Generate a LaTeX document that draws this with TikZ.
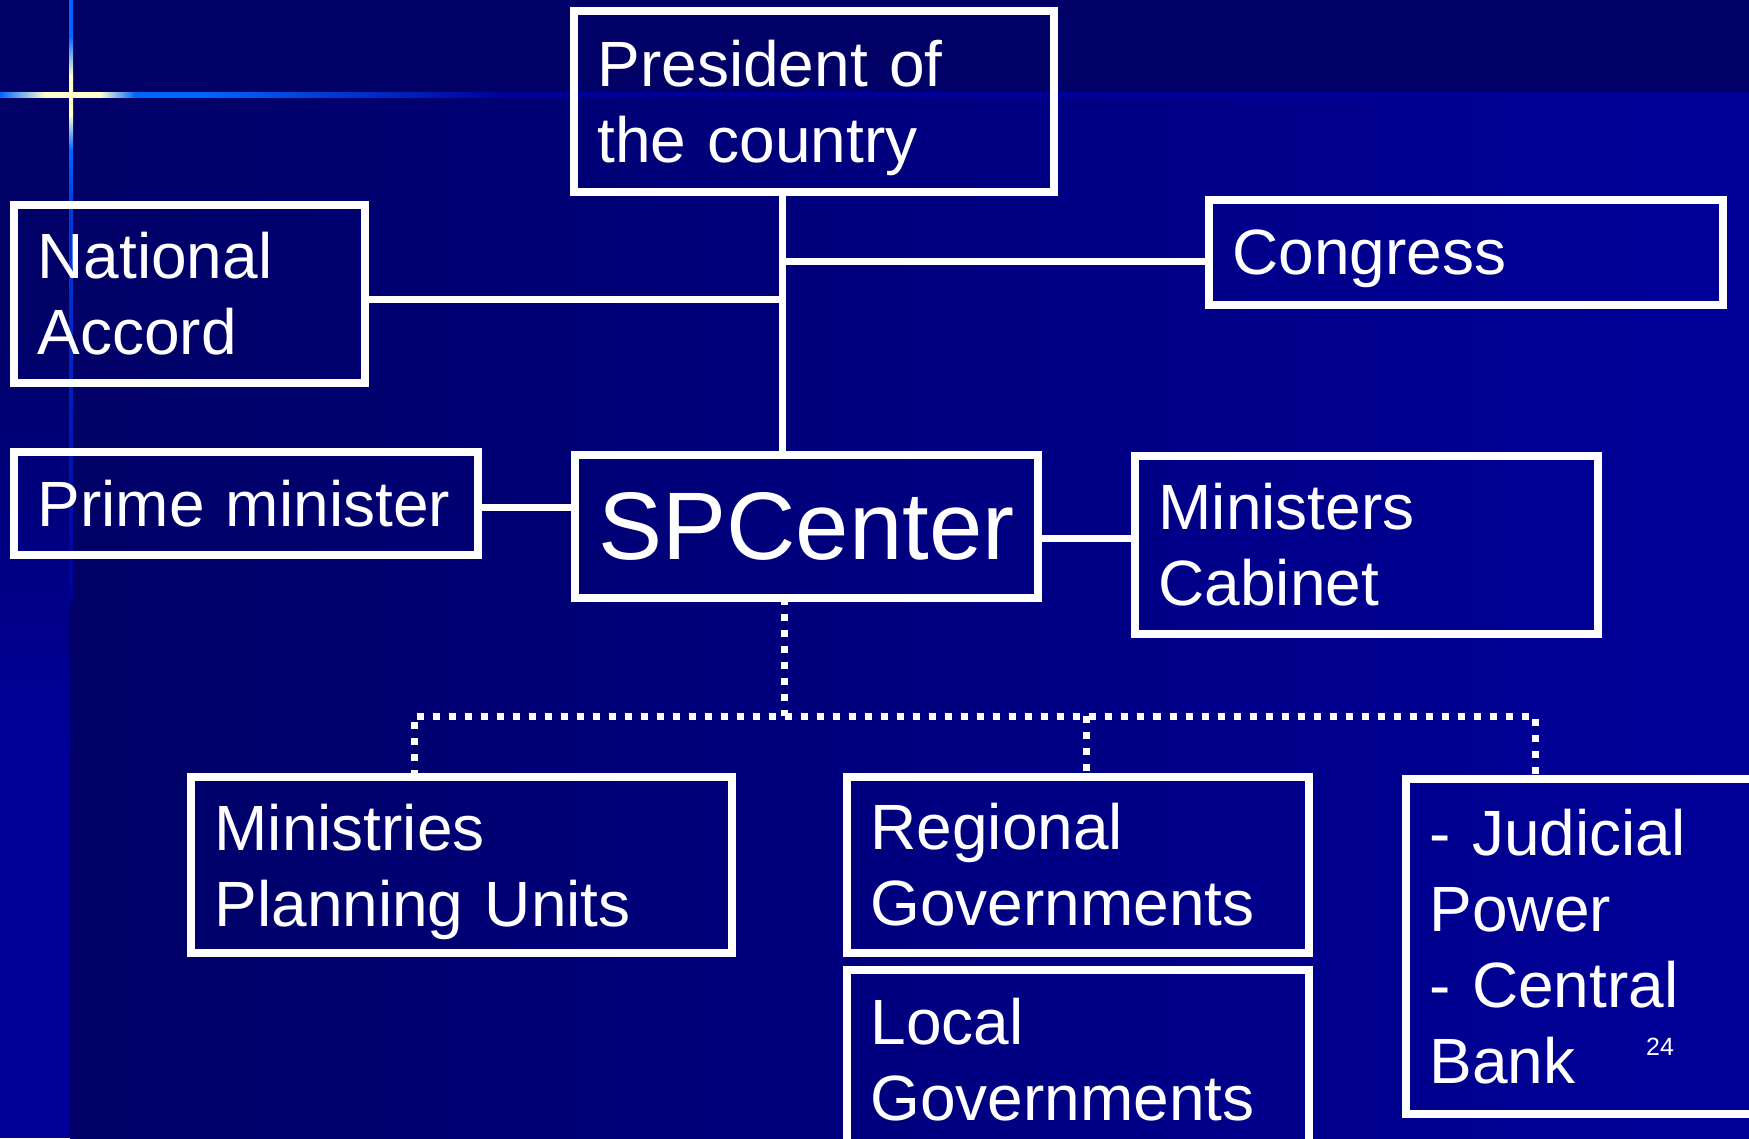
\documentclass[tikz,border=0pt]{standalone}
\usepackage{fontspec}
\setmainfont{Liberation Sans}
\definecolor{bgdark}{RGB}{0,0,102}
\definecolor{bglight}{RGB}{0,0,153}
\definecolor{glowblue}{RGB}{0,102,255}
\definecolor{glowdim}{RGB}{0,60,220}
\definecolor{glowpale}{RGB}{255,255,204}
\pgfdeclarehorizontalshading{glowh}{100bp}{color(0bp)=(glowblue); color(25bp)=(glowblue); color(29.5bp)=(glowpale); color(35bp)=(glowpale); color(38.5bp)=(glowblue); color(45bp)=(glowblue); color(75bp)=(bglight); color(100bp)=(bglight)}
\pgfdeclareverticalshading{glowv}{100bp}{color(0bp)=(bglight); color(25bp)=(bglight); color(58bp)=(glowdim); color(62.5bp)=(glowblue); color(65.4bp)=(glowpale); color(68.7bp)=(glowpale); color(72bp)=(glowblue); color(75bp)=(glowblue); color(100bp)=(glowblue)}

\begin{document}
\begin{tikzpicture}
    [x=0.01cm,y=-0.01cm,
     box/.style={draw=white,line width=0.08cm,anchor=north west,inner xsep=0.235cm,inner ysep=0pt,outer sep=0pt,
                 align=left,text=white,font=\fontsize{18.2}{21.6}\selectfont},
     link/.style={white,line width=0.07cm},
     dots/.style={white,line width=0.07cm,dash pattern=on 0.07cm off 0.09cm}]
    \useasboundingbox (0,0) rectangle (1749,1138);
    \clip (0,0) rectangle (1749,1138);
    % background
    \fill[bgdark] (0,0) rectangle (1749,1138);
    \shade[left color=bgdark,right color=bglight] (70,96) rectangle (1749,1138);
    \shade[top color=bgdark,bottom color=bglight] (0,300) rectangle (70,750);
    \fill[bglight] (0,750) rectangle (70,1138);
    \fill[bglight] (500,92) rectangle (1749,97);
    \shade[shading=glowh] (0,92) rectangle (500,97);
    \shade[shading=glowv] (69,0) rectangle (73,600);
    % boxes
    \node[box,minimum width=4.80cm,minimum height=1.81cm,text width=4.33cm] (pres) at (574,11) {President of\\\smash{the country}};
    \node[box,minimum width=3.51cm,minimum height=1.78cm,text width=3.04cm] (na) at (14,205) {National\\Accord};
    \node[box,minimum width=5.14cm,minimum height=1.05cm,text width=4.67cm,text depth=0pt] (cong) at (1209,200) {Congress};
    \node[box,minimum width=4.64cm,minimum height=1.03cm,text width=4.17cm] (pm) at (14,452) {Prime minister};
    \node[box,minimum width=4.63cm,minimum height=1.43cm,text width=4.16cm,font=\fontsize{27.3}{32}\selectfont] (spc) at (575,455) {SPCenter};
    \node[box,minimum width=4.63cm,minimum height=1.78cm,text width=4.16cm] (min) at (1135,456) {Ministers\\Cabinet};
    \node[box,minimum width=5.41cm,minimum height=1.76cm,text width=4.94cm] (mpu) at (191,777) {Ministries\\\smash{Planning Units}};
    \node[box,minimum width=4.62cm,minimum height=1.76cm,text width=4.15cm] (reg) at (847,777) {Regional\\Governments};
    \node[box,minimum width=4.62cm,minimum height=1.80cm,text width=4.15cm] (loc) at (847,970) {Local\\Governments};
    \node[box,minimum width=3.80cm,minimum height=3.35cm,text width=3.33cm] (jud) at (1406,779) {- Judicial\\Power\\- Central\\Bank};
    \node[text=white,font=\fontsize{7.1}{8}\selectfont,inner sep=0pt] (pg) at (1660,1047) {24};
    % solid links
    \coordinate (trunk) at (782,261);
    \coordinate (naj) at (782,299);
    \coordinate (pmj) at (526,507);
    \coordinate (minj) at (1086,538);
    \draw[link] (pres.south -| trunk) -- (spc.north -| trunk);
    \draw[link] (trunk) -- (cong.west |- trunk);
    \draw[link] (na.east |- naj) -- (naj);
    \draw[link] (pm.east |- pmj) -- (spc.west |- pmj);
    \draw[link] (spc.east |- minj) -- (min.west |- minj);
    % dotted links
    \coordinate (bus) at (784,716);
    \coordinate (busl) at (414,716);
    \coordinate (busm) at (1086,716);
    \coordinate (busr) at (1535,716);
    \draw[dots] (spc.south -| bus) -- (bus);
    \draw[dots] (mpu.north -| busl) -- (busl) -- (busr) -- (jud.north -| busr);
    \draw[dots] (busm) -- (reg.north -| busm);
\end{tikzpicture}
\end{document}
